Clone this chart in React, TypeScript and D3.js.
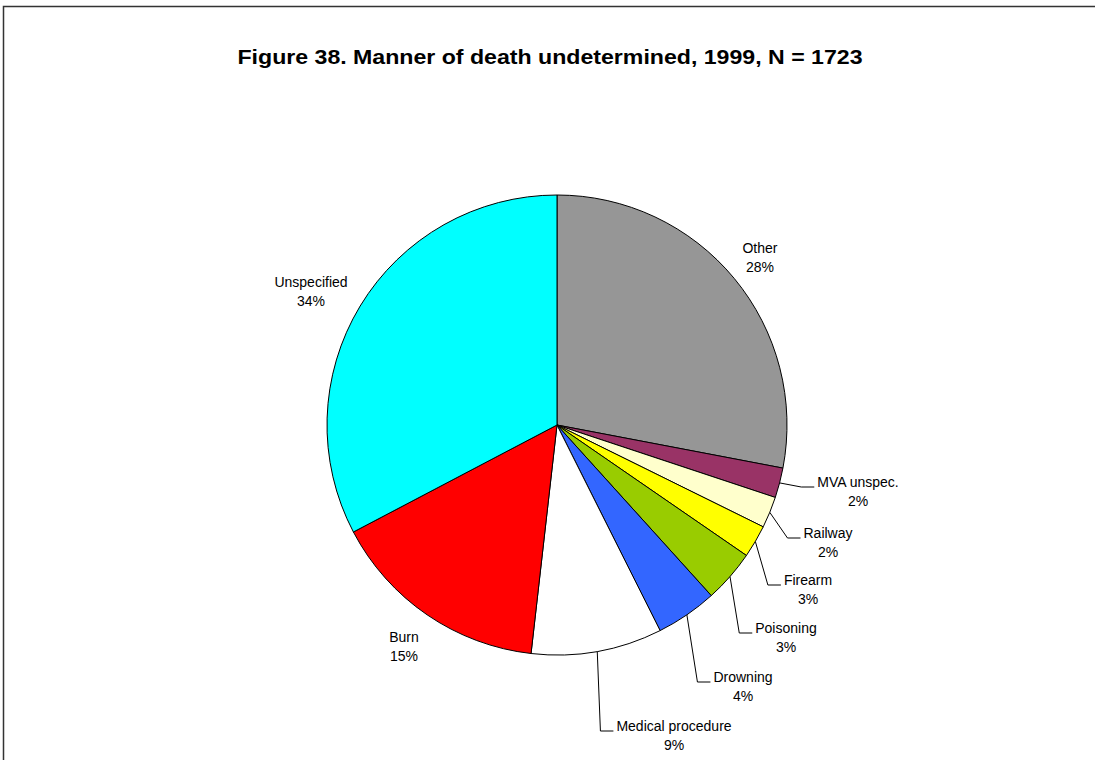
import React, { useEffect, useRef } from 'react';
import * as d3 from 'd3';

// slices clockwise from 12 o'clock, shares (%)
const categories = ['Other', 'MVA unspec.', 'Railway', 'Firearm', 'Poisoning', 'Drowning', 'Medical procedure', 'Burn', 'Unspecified'];
const shares = [28.0, 2.1, 2.2, 2.3, 3.7, 4.3, 9.2, 15.5, 32.7];
const pctLabels = ['28%', '2%', '2%', '3%', '3%', '4%', '9%', '15%', '34%'];
const colors = ['#969696', '#993366', '#FFFFCC', '#FFFF00', '#99CC00', '#3366FF', '#FFFFFF', '#FF0000', '#00FFFF'];

// label placement (text centre x, first line y) as Excel left them
const labelPos: [number, number][] = [
  [760, 248], [858, 482], [828, 533], [808, 580], [786, 628],
  [743, 677], [674, 726], [404, 637], [311, 282],
];
const hasLeader = [false, true, true, true, true, true, true, false, false];

const W = 1095, H = 760;
const cx = 557, cy = 425, R = 230;

export default function App() {
  const ref = useRef<SVGSVGElement>(null);

  useEffect(() => {
    const svg = d3.select(ref.current);
    svg.selectAll('*').remove();

    svg.append('rect').attr('width', W).attr('height', H).attr('fill', '#fff');

    // frame
    svg.append('path')
      .attr('d', `M3.5,${H} L3.5,6.5 L${W},6.5`)
      .attr('fill', 'none').attr('stroke', '#333').attr('stroke-width', 1.5);

    svg.append('text')
      .attr('x', 550).attr('y', 64)
      .attr('text-anchor', 'middle')
      .attr('font-family', 'Arial, "Liberation Sans", sans-serif')
      .attr('font-weight', 'bold').attr('font-size', 20)
      .attr('textLength', 625).attr('lengthAdjust', 'spacingAndGlyphs')
      .text('Figure 38. Manner of death undetermined, 1999, N = 1723');

    const pie = d3.pie<number>().sort(null).value(d => d);
    const arcs = pie(shares);
    const arc = d3.arc<d3.PieArcDatum<number>>().innerRadius(0).outerRadius(R);

    const g = svg.append('g').attr('transform', `translate(${cx},${cy})`);
    g.selectAll('path').data(arcs).join('path')
      .attr('d', arc)
      .attr('fill', (d, i) => colors[i])
      .attr('stroke', '#000').attr('stroke-width', 1);

    const lab = svg.append('g')
      .attr('font-family', 'Arial, "Liberation Sans", sans-serif')
      .attr('font-size', 14).attr('fill', '#000');

    arcs.forEach((a, i) => {
      const [x, y] = labelPos[i];
      const t1 = lab.append('text').attr('x', x).attr('y', y + 5).attr('text-anchor', 'middle').text(categories[i]);
      lab.append('text').attr('x', x).attr('y', y + 24).attr('text-anchor', 'middle').text(pctLabels[i]);
      if (!hasLeader[i]) return;
      const w = (t1.node() as SVGTextElement).getComputedTextLength();
      const left = x - w / 2;
      const mid = (a.startAngle + a.endAngle) / 2;
      const sx = cx + R * Math.sin(mid), sy = cy - R * Math.cos(mid);
      const ly = y + 5;
      svg.append('path')
        .attr('d', d3.line()([[sx, sy], [left - 16, ly], [left - 3, ly]]))
        .attr('fill', 'none').attr('stroke', '#000').attr('stroke-width', 1);
    });
  }, []);

  return <svg ref={ref} width={W} height={H} style={{ position: 'absolute', left: 0, top: 0 }} />;
}
